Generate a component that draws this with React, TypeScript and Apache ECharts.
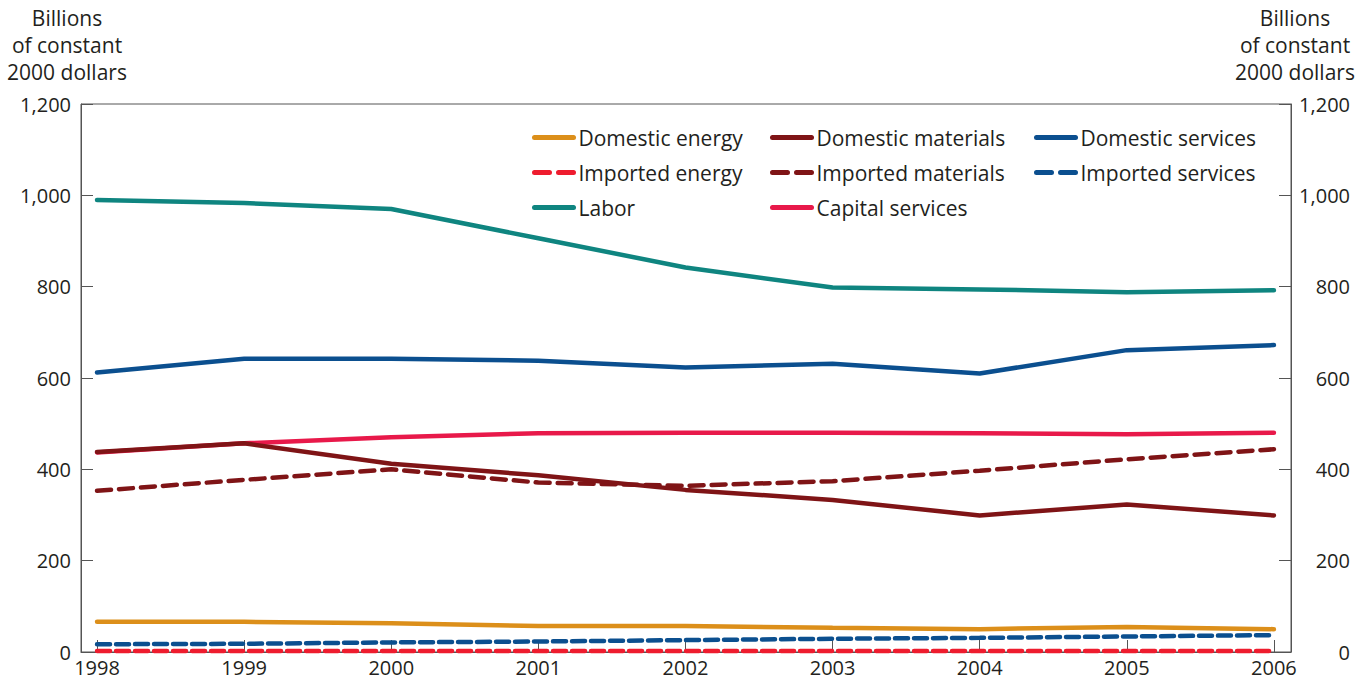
import React, { useEffect, useRef } from "react";
import * as echarts from "echarts";

const years = [1998, 1999, 2000, 2001, 2002, 2003, 2004, 2005, 2006];

const domesticEnergy = [66, 66, 63, 57, 57, 53, 50, 55, 50];
const importedEnergy = [2, 2, 2, 2, 2, 2, 2, 2, 2];
const labor = [990, 983, 970, 906, 842, 798, 794, 788, 792];
const domesticMaterials = [438, 457, 412, 387, 355, 333, 299, 323, 299];
const importedMaterials = [353, 377, 400, 371, 364, 374, 397, 422, 444];
const capitalServices = [437, 457, 470, 479, 480, 480, 479, 477, 480];
const domesticServices = [612, 642, 642, 638, 623, 631, 610, 661, 672];
const importedServices = [17, 18, 21, 23, 26, 29, 31, 34, 37];

const legendCol1 = ["Domestic energy", "Imported energy", "Labor"];
const legendCol2 = ["Domestic materials", "Imported materials", "Capital services"];
const legendCol3 = ["Domestic services", "Imported services"];

const FONT = "'Open Sans', 'Noto Sans', sans-serif";
const TEXT = "#231f20";

function pairs(vals: number[]) {
  return years.map((y, i) => [y, vals[i]]);
}

function legendItems(names: string[]) {
  return names.map((name) => ({
    name,
    lineStyle: {
      width: 5,
      cap: "round",
      type: name.startsWith("Imported") ? [15, 9] : "solid",
      dashOffset: 0,
    },
  }));
}

export default function App() {
  const ref = useRef<HTMLDivElement>(null);
  useEffect(() => {
    if (!ref.current) return;
    const chart = echarts.init(ref.current, null, { renderer: "svg" });
    const mk = (name: string, data: number[], color: string, dashed: number[] | null, z = 2) => ({
      name,
      type: "line",
      data: pairs(data),
      showSymbol: false,
      symbol: "none",
      z,
      lineStyle: {
        color,
        width: 4.5,
        type: dashed ? dashed : "solid",
        cap: "round",
      },
      itemStyle: { color },
    });
    const legendBase = {
      orient: "vertical",
      padding: 0,
      itemWidth: 39,
      itemHeight: 14,
      itemGap: 14,
      itemStyle: { opacity: 0, color: "transparent", borderWidth: 0 },
      lineStyle: { width: 5, cap: "round" },
      textStyle: { fontFamily: FONT, fontSize: 21, color: TEXT },
      selectedMode: false,
    };
    const axisLabelY = {
      fontFamily: FONT,
      fontSize: 20,
      color: TEXT,
      formatter: (v: number) => v.toLocaleString("en-US"),
    };
    const titleStyle = {
      text: "Billions\nof constant\n2000 dollars",
      align: "center",
      fontFamily: FONT,
      fontSize: 21,
      lineHeight: 27,
      fill: TEXT,
    };
    chart.setOption({
      animation: false,
      grid: {
        left: 81,
        right: 78,
        top: 104,
        bottom: 31,
        show: true,
        borderColor: "#555",
        borderWidth: 1,
      },
      legend: [
        { ...legendBase, left: 532, top: 127, data: legendItems(legendCol1) },
        { ...legendBase, left: 770, top: 127, data: legendItems(legendCol2) },
        { ...legendBase, left: 1034, top: 127, data: legendItems(legendCol3) },
      ],
      xAxis: {
        type: "value",
        min: 1997.891,
        max: 2006.116,
        splitLine: { show: false },
        axisLine: { show: true, lineStyle: { color: "#555" } },
        axisTick: {
          show: true,
          inside: true,
          length: 12,
          customValues: years,
          lineStyle: { color: "#555" },
        },
        axisLabel: {
          customValues: years,
          fontFamily: FONT,
          fontSize: 20,
          color: TEXT,
          margin: 5,
          formatter: (v: number) => String(v),
        },
      },
      yAxis: [
        {
          type: "value",
          min: 0,
          max: 1200,
          interval: 200,
          position: "left",
          splitLine: { show: false },
          axisLine: { show: true, lineStyle: { color: "#555" } },
          axisTick: { show: true, inside: true, length: 12, lineStyle: { color: "#555" } },
          axisLabel: { ...axisLabelY, margin: 10 },
        },
        {
          type: "value",
          min: 0,
          max: 1200,
          interval: 200,
          position: "right",
          splitLine: { show: false },
          axisLine: { show: true, lineStyle: { color: "#555" } },
          axisTick: { show: true, inside: true, length: 12, lineStyle: { color: "#555" } },
          axisLabel: { ...axisLabelY, align: "right", margin: 59 },
        },
      ],
      graphic: [
        { type: "text", x: 67, y: 4, style: titleStyle },
        { type: "text", x: 1295, y: 4, style: titleStyle },
      ],
      series: [
        mk("Domestic energy", domesticEnergy, "#dc8f1a", null),
        mk("Imported energy", importedEnergy, "#ee1c2e", [13, 6]),
        mk("Labor", labor, "#0f8580", null),
        mk("Domestic materials", domesticMaterials, "#7f1416", null, 3),
        mk("Imported materials", importedMaterials, "#7f1416", [14, 8]),
        mk("Capital services", capitalServices, "#e8194a", null),
        mk("Domestic services", domesticServices, "#0b4f8f", null),
        mk("Imported services", importedServices, "#0b4f8f", [13, 6]),
      ],
    });
    return () => chart.dispose();
  }, []);
  return (
    <div
      ref={ref}
      style={{ position: "absolute", left: 0, top: 0, width: 1369, height: 683 }}
    />
  );
}
